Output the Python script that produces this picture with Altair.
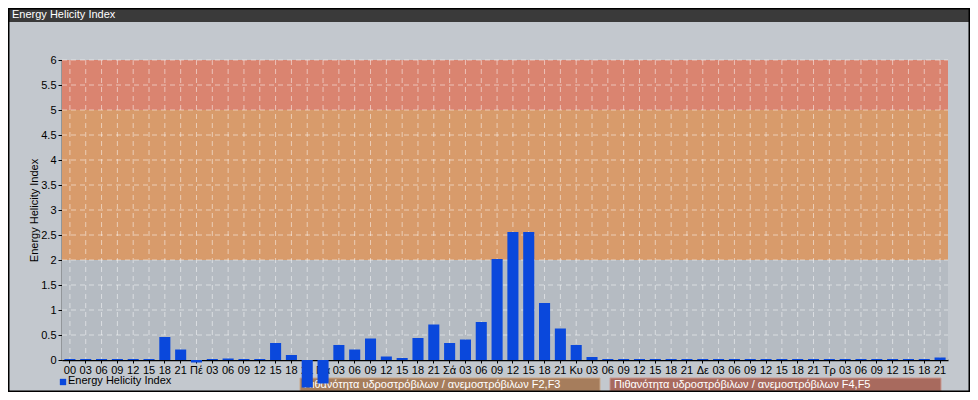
import altair as alt
import pandas as pd

# ---- data ----
day_names = ["Πέ", "Πα", "Σά", "Κυ", "Δε", "Τρ"]
hours = ["03", "06", "09", "12", "15", "18", "21"]
tick_labels = ["00", "03", "06", "09", "12", "15", "18", "21"]
for d in day_names:
    tick_labels += [d] + hours

ehi_values = [
    0.02, 0.02, 0.02, 0.02, 0.02, 0.02, 0.46, 0.21,
    -0.05, 0.02, 0.03, 0.02, 0.02, 0.34, 0.10, -0.55,
    -0.47, 0.30, 0.21, 0.43, 0.07, 0.04, 0.44, 0.71,
    0.34, 0.41, 0.76, 2.02, 2.56, 2.56, 1.14, 0.63,
    0.30, 0.06, 0.02, 0.02, 0.02, 0.02, 0.02, 0.02,
    0.02, 0.02, 0.02, 0.02, 0.02, 0.02, 0.02, 0.02,
    0.02, 0.02, 0.02, 0.02, 0.02, 0.02, 0.02, 0.05,
]

y_ticks = [0, 0.5, 1, 1.5, 2, 2.5, 3, 3.5, 4, 4.5, 5, 5.5, 6]

band_low = [0, 2, 5]
band_high = [2, 5, 6]
band_colors = ["#b5bbc2", "#d89b6b", "#da8470"]

series_name = "Energy Helicity Index"
box_labels = [
    "Πιθανότητα υδροστρόβιλων / ανεμοστρόβιλων F2,F3",
    "Πιθανότητα υδροστρόβιλων / ανεμοστρόβιλων F4,F5",
]

# ---- tables ----
df = pd.DataFrame({"idx": list(range(len(ehi_values))), "v": ehi_values})
bands = pd.DataFrame({"lo": band_low, "hi": band_high, "c": band_colors})
ygrid = pd.DataFrame({"y": y_ticks[1:]})
xgrid = pd.DataFrame({"idx": list(range(len(tick_labels)))})

W, H = 886, 300
PAD_L, PAD_T, PAD_R, PAD_B = 54, 52, 22, 32
label_arr = "[" + ",".join("'" + s + "'" for s in tick_labels) + "]"

x_scale = alt.Scale(paddingInner=0.3, paddingOuter=0.15)
y_scale = alt.Scale(domain=[0, 6], nice=False)

x_axis = alt.Axis(
    title=None,
    labelExpr=label_arr + "[datum.value]",
    labelAngle=0,
    labelFontSize=11,
    labelColor="#000000",
    labelFont="Liberation Sans",
    labelPadding=1,
    tickSize=3,
    tickColor="#000000",
    domainColor="#000000",
    domainWidth=1.5,
    grid=False,
)
y_axis = alt.Axis(
    title="Energy Helicity Index",
    titleFontSize=11,
    titleFontWeight="normal",
    titleFont="Liberation Sans",
    titleColor="#000000",
    titlePadding=1,
    values=y_ticks,
    format="~g",
    labelFontSize=11,
    labelFont="Liberation Sans",
    labelColor="#000000",
    labelPadding=2,
    tickSize=4,
    tickColor="#000000",
    domainColor="#000000",
    domainWidth=1.5,
    grid=False,
)

bg = alt.Chart(bands).mark_rect().encode(
    x=alt.value(0),
    x2=alt.value(W),
    y=alt.Y("lo:Q", scale=y_scale, axis=y_axis),
    y2="hi:Q",
    color=alt.Color("c:N", scale=None, legend=None),
)

grid_style = dict(color="#ffffff", opacity=0.5, strokeDash=[5, 4], strokeWidth=1)
hgrid = alt.Chart(ygrid).mark_rule(**grid_style).encode(
    y=alt.Y("y:Q", scale=y_scale, axis=y_axis), x=alt.value(0), x2=alt.value(W)
)
vgrid = alt.Chart(xgrid).mark_rule(**grid_style).encode(
    x=alt.X("idx:O", scale=x_scale, axis=x_axis), y=alt.value(0), y2=alt.value(H)
)

bars = alt.Chart(df).mark_bar(color="#0a48dc", clip=False).encode(
    x=alt.X("idx:O", scale=x_scale, axis=x_axis),
    y=alt.Y("v:Q", scale=y_scale, axis=y_axis),
)

one = pd.DataFrame({"k": [0]})

# title bar
title_bar = alt.Chart(one).mark_rect(color="#3a3a3a").encode(
    x=alt.value(-PAD_L), x2=alt.value(W + PAD_R), y=alt.value(-PAD_T), y2=alt.value(-PAD_T + 14)
)
title_text = alt.Chart(one).mark_text(
    text="Energy Helicity Index", align="left", baseline="middle",
    color="#ffffff", fontSize=11, font="Liberation Sans"
).encode(x=alt.value(-PAD_L + 4), y=alt.value(-PAD_T + 7))

# legend
leg_sq = alt.Chart(one).mark_square(color="#0a48dc", size=40, opacity=1).encode(
    x=alt.value(1), y=alt.value(H + 22)
)
leg_tx = alt.Chart(one).mark_text(
    text=series_name, align="left", baseline="middle",
    color="#000000", fontSize=11, font="Liberation Sans"
).encode(x=alt.value(6), y=alt.value(H + 21))

# probability boxes
box1 = alt.Chart(one).mark_rect(color="#a67d5c", stroke="#c9a88a", strokeWidth=1).encode(
    x=alt.value(238), x2=alt.value(538), y=alt.value(H + 18), y2=alt.value(H + 31)
)
box1_tx = alt.Chart(one).mark_text(
    text=box_labels[0], align="left", baseline="middle",
    color="#ffffff", fontSize=11, font="Liberation Sans"
).encode(x=alt.value(242), y=alt.value(H + 25))
box2 = alt.Chart(one).mark_rect(color="#a86a5e", stroke="#c99890", strokeWidth=1).encode(
    x=alt.value(548), x2=alt.value(879), y=alt.value(H + 18), y2=alt.value(H + 31)
)
box2_tx = alt.Chart(one).mark_text(
    text=box_labels[1], align="left", baseline="middle",
    color="#ffffff", fontSize=11, font="Liberation Sans"
).encode(x=alt.value(552), y=alt.value(H + 25))

frame = alt.Chart(one).mark_rect(fill=None, stroke="#000000", strokeWidth=3).encode(
    x=alt.value(-PAD_L), x2=alt.value(W + PAD_R), y=alt.value(-PAD_T), y2=alt.value(H + PAD_B)
)

chart = alt.layer(
    bg, hgrid, vgrid, box1, box2, box1_tx, box2_tx, bars, leg_sq, leg_tx,
    title_bar, title_text, frame
).properties(
    width=W, height=H,
    autosize=alt.AutoSizeParams(type="none"),
    padding={"left": PAD_L, "top": PAD_T, "right": PAD_R, "bottom": PAD_B},
    background="#c3c8ce",
).configure_view(stroke=None).configure_axis(labelOverlap=False)

chart.save("out.html", embed_options={"renderer": "svg", "actions": False})
